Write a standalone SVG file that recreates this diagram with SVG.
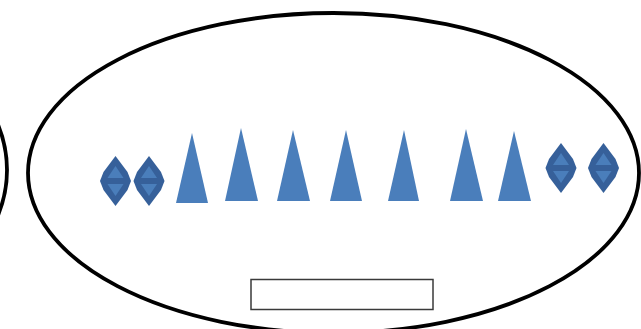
<svg xmlns="http://www.w3.org/2000/svg" width="641" height="329" viewBox="0 0 641 329">
<style>
.outline{fill:none;stroke:#000;stroke-width:3.8}
.tri{fill:#4a7ebb}
.dOuter{fill:#36609a}
.dInner{fill:#4a7ebb}
.box{fill:#fff;stroke:#3a3a3a;stroke-width:1.5}
</style>
<defs>
<g id="diamond">
<polygon class="dOuter" points="0,-25 12,-9 15.5,0 12,9 0,25 -12,9 -15.5,0 -12,-9"/>
<polygon class="dInner" points="0,-15 8,-3 -8,-3"/>
<polygon class="dInner" points="-8,3 8,3 0,15"/>
</g>
</defs>
<rect width="641" height="329" fill="#fff"/>
<g id="left-ellipse"><ellipse class="outline" cx="-213" cy="170" rx="220" ry="160"/></g>
<g id="main-ellipse"><ellipse class="outline" cx="333.5" cy="173" rx="305.5" ry="160"/></g>
<g id="diamond-1"><use href="#diamond" x="115.5" y="181"/></g>
<g id="diamond-2"><use href="#diamond" x="149" y="181"/></g>
<g id="triangle-1"><polygon class="tri" points="192,133 208,203 176,203"/></g>
<g id="triangle-2"><polygon class="tri" points="241,128 258,201 225,201"/></g>
<g id="triangle-3"><polygon class="tri" points="293,130 310,201 277,201"/></g>
<g id="triangle-4"><polygon class="tri" points="346,130 362,201 330,201"/></g>
<g id="triangle-5"><polygon class="tri" points="404,130 419,201 388,201"/></g>
<g id="triangle-6"><polygon class="tri" points="466,129 483,201 450,201"/></g>
<g id="triangle-7"><polygon class="tri" points="514,131 531,201 498,201"/></g>
<g id="diamond-3"><use href="#diamond" x="561" y="168"/></g>
<g id="diamond-4"><use href="#diamond" x="603.5" y="168"/></g>
<g id="label-box"><rect class="box" x="251" y="279.5" width="182" height="30"/></g>
</svg>
